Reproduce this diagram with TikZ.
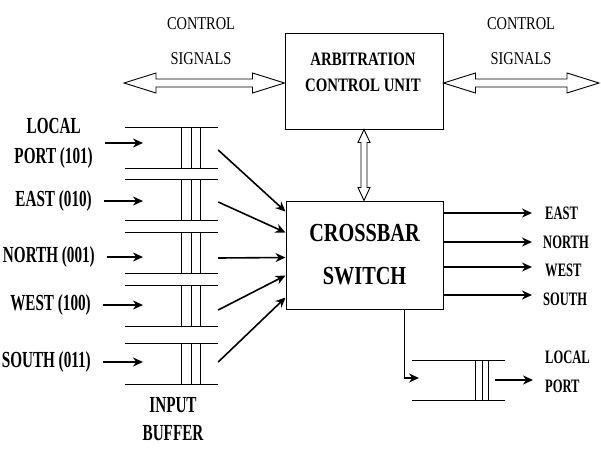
\documentclass[tikz,border=0pt]{standalone}
\usepackage{fontspec}
\setmainfont{Liberation Serif}
\newfontfamily\condbf[FakeStretch=0.66]{Liberation Serif}
\newfontfamily\boxbf[FakeStretch=0.78]{Liberation Serif}
\newfontfamily\condrm[FakeStretch=0.8]{Liberation Serif}
\usetikzlibrary{arrows.meta,calc}
\begin{document}
\begin{tikzpicture}[x=1pt,y=-1pt,
  box/.style={draw, line width=1pt, inner sep=0pt},
  arr/.style={line width=1.6pt, -{Stealth[length=10pt,width=9pt]}},
  bl/.style={line width=1.1pt},
  barline/.style={line width=0.8pt},
  hollow/.style={line width=0.9pt, fill=white, line join=miter},
  lab/.style={font=\condbf\bfseries\fontsize{23}{30}\selectfont, inner sep=0pt, align=center},
  olab/.style={font=\condbf\bfseries\fontsize{19}{29}\selectfont, inner sep=0pt, align=left, anchor=west},
  ctl/.style={font=\condrm\fontsize{18}{35}\selectfont, inner sep=0pt, align=center},
  buf/.style={minimum width=93pt, minimum height=41pt, inner sep=0pt}
]
\useasboundingbox[fill=white] (0,0) rectangle (601,450);

% boxes
\node[box, minimum width=158pt, minimum height=96pt] (arb) at (364,81) {};
\node[font=\boxbf\bfseries\fontsize{19}{26}\selectfont, inner sep=0pt, align=center] (arbt) at (363,72) {ARBITRATION\\CONTROL UNIT};
\node[box, minimum width=157pt, minimum height=108pt, font=\boxbf\bfseries\fontsize{26}{43}\selectfont, align=center] (cb) at (364.5,255) {CROSSBAR\\SWITCH};

% control signal labels
\node[ctl] (cs1) at (201,41.5) {CONTROL\\SIGNALS};
\node[ctl] (cs2) at (521,41.5) {CONTROL\\SIGNALS};

% hollow double arrows
\coordinate (cl) at (124,83);
\coordinate (cr) at (599,83);
\draw[hollow] let \p1=(cl), \p2=(cl -| arb.west) in
  (\x1,\y1) -- (\x1+32pt,\y1-10pt) -- (\x1+32pt,\y1-4pt) -- (\x2-32pt,\y1-4pt) -- (\x2-32pt,\y1-10pt)
  -- (\x2,\y1) -- (\x2-32pt,\y1+10pt) -- (\x2-32pt,\y1+4pt) -- (\x1+32pt,\y1+4pt) -- (\x1+32pt,\y1+10pt) -- cycle;
\draw[hollow] let \p1=(cr -| arb.east), \p2=(cr) in
  (\x1,\y1) -- (\x1+32pt,\y1-10pt) -- (\x1+32pt,\y1-4pt) -- (\x2-32pt,\y1-4pt) -- (\x2-32pt,\y1-10pt)
  -- (\x2,\y1) -- (\x2-32pt,\y1+10pt) -- (\x2-32pt,\y1+4pt) -- (\x1+32pt,\y1+4pt) -- (\x1+32pt,\y1+10pt) -- cycle;
\draw[hollow] let \p1=(arb.south), \p2=(cb.north) in
  (\x1,\y1) -- (\x1+6pt,\y1-13pt) -- (\x1+3pt,\y1-13pt) -- (\x1+3pt,\y2+13pt) -- (\x1+6pt,\y2+13pt)
  -- (\x1,\y2) -- (\x1-6pt,\y2+13pt) -- (\x1-3pt,\y2+13pt) -- (\x1-3pt,\y1-13pt) -- (\x1-6pt,\y1-13pt) -- cycle;

% input buffers
\foreach \n/\yy in {1/148,2/200,3/253,4/306,5/364} {
  \node[buf] (b\n) at (171.5,\yy) {};
  \draw[bl] (b\n.north west) -- (b\n.north east) (b\n.south west) -- (b\n.south east);
  \foreach \xx in {9.5,19.5,28.5}
    \draw[barline] ([xshift=\xx pt]b\n.north) -- ([xshift=\xx pt]b\n.south);
}

% input labels
\node[lab, anchor=east] (l1) at (93,143) {LOCAL\\PORT (101)};
\node[lab, anchor=east] (l2) at (92,201) {EAST (010)};
\node[lab, anchor=east] (l3) at (95,257) {NORTH (001)};
\node[lab, anchor=east] (l4) at (91,305) {WEST (100)};
\node[lab, anchor=east] (l5) at (91,362) {SOUTH (011)};
\coordinate (inx) at (143,0);
\foreach \n in {1,...,5}
  \draw[arr] ([xshift=12pt]l\n.east) -- (l\n.east -| inx);

\node[lab, font=\condbf\bfseries\fontsize{23}{28}\selectfont] (ib) at (173,419) {INPUT\\BUFFER};

% buffers to crossbar
\draw[arr] ([yshift=-2pt]b1.east) -- ($(cb.north west)+(0,11)$);
\draw[arr] ([yshift=-2pt]b2.east) -- ($(cb.north west)+(0,32)$);
\draw[arr] ([yshift=-5pt]b3.east) -- ($(cb.north west)+(0,57)$);
\draw[arr] ([yshift=-4pt]b4.east) -- ($(cb.north west)+(0,75)$);
\draw[arr] ([yshift=2pt]b5.east) -- ($(cb.north west)+(0,97)$);

% outputs
\coordinate (o1) at (532,213);
\coordinate (o2) at (532,242);
\coordinate (o3) at (532,267);
\coordinate (o4) at (532,295);
\foreach \n in {1,...,4}
  \draw[arr] (o\n -| cb.east) -- (o\n);
\node[olab] (t1) at (545,213) {EAST};
\node[olab] (t2) at (543,242) {NORTH};
\node[olab] (t3) at (545,270) {WEST};
\node[olab] (t4) at (543,299) {SOUTH};

% local output
\node[buf, minimum height=39pt] (ob) at (458.5,380.5) {};
\draw[bl] (ob.north west) -- (ob.north east) (ob.south west) -- (ob.south east);
\foreach \xx in {16.5,23.5,29.5}
  \draw[barline] ([xshift=\xx pt]ob.north) -- ([xshift=\xx pt]ob.south);
\coordinate (ld) at ($(cb.south east)+(-39,0)$);
\coordinate (lt) at (419,378);
\draw[line width=1.2pt, -{Stealth[length=10pt,width=9pt]}] (ld) |- (lt);
\node[olab] (lp) at (545,372) {LOCAL\\PORT};
\coordinate (lo) at (533,380);
\draw[arr] (lo -| ob.east) ++(-10,0) -- (lo);
\end{tikzpicture}
\end{document}
